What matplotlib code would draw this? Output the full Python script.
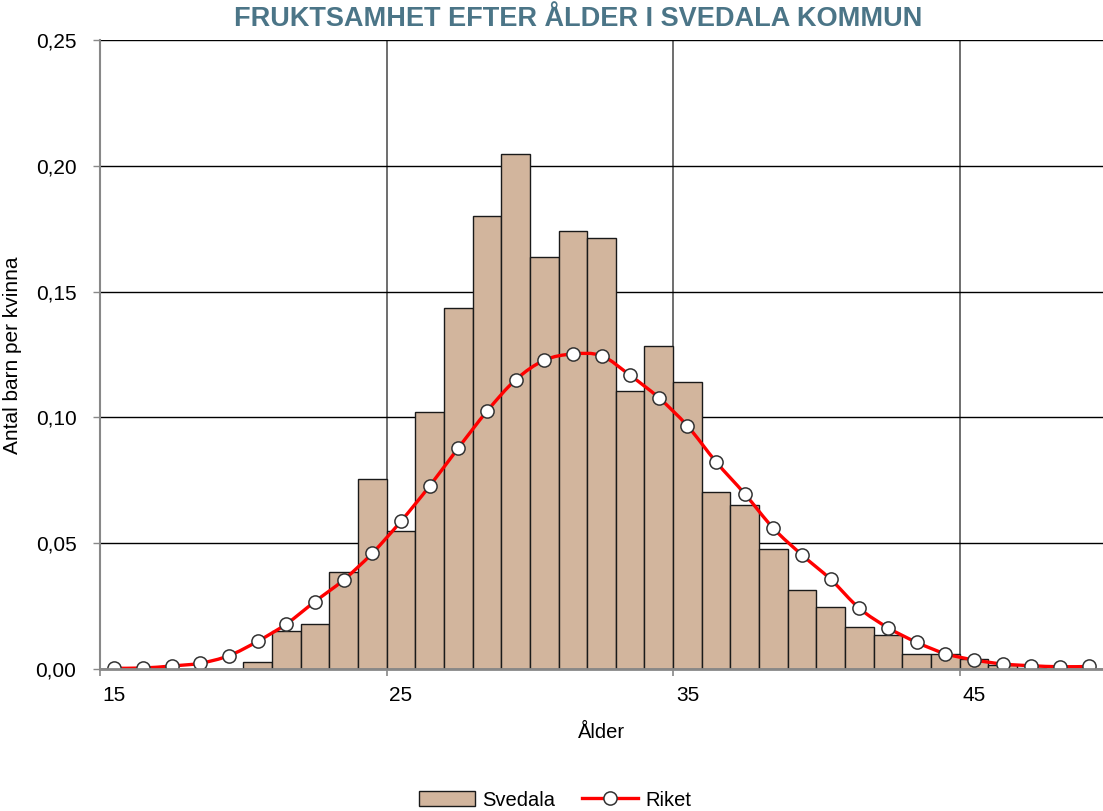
import matplotlib
matplotlib.use("Agg")
import matplotlib.pyplot as plt
from matplotlib import font_manager
from matplotlib.path import Path
from matplotlib.patches import PathPatch, Patch
from matplotlib.lines import Line2D
import numpy as np

ages = list(range(15, 50))
svedala = [0, 0, 0, 0, 0,
           0.0029, 0.0151, 0.0180, 0.0387, 0.0755, 0.0548, 0.1020, 0.1434, 0.1800, 0.2047,
           0.1639, 0.1740, 0.1712, 0.1105, 0.1285, 0.1140, 0.0705, 0.0653, 0.0477, 0.0314,
           0.0246, 0.0168, 0.0135, 0.0060, 0.0058, 0.0038, 0.0015, 0.0005, 0, 0]
riket = [0.0003, 0.0004, 0.0012, 0.0023, 0.0053, 0.0110, 0.0179, 0.0268, 0.0354, 0.0460,
         0.0587, 0.0727, 0.0878, 0.1024, 0.1149, 0.1227, 0.1252, 0.1245, 0.1167, 0.1078,
         0.0966, 0.0823, 0.0696, 0.0559, 0.0453, 0.0356, 0.0241, 0.0164, 0.0106, 0.0061,
         0.0036, 0.0020, 0.0013, 0.0009, 0.0010]
xtick_labels = ["15", "25", "35", "45"]
ytick_values = [0.00, 0.05, 0.10, 0.15, 0.20, 0.25]
ytick_labels = ["0,00", "0,05", "0,10", "0,15", "0,20", "0,25"]

title = "FRUKTSAMHET EFTER ÅLDER I SVEDALA KOMMUN"

plt.rcParams['font.family'] = ['Liberation Sans', 'DejaVu Sans']

def has_font(name):
    try:
        font_manager.findfont(name, fallback_to_default=False)
        return True
    except Exception:
        return False

if has_font('Liberation Sans Narrow'):
    title_family, title_size = 'Liberation Sans Narrow', 22
else:
    title_family, title_size = 'Liberation Sans', 19.5

W, H = 1103, 811
fig = plt.figure(figsize=(W / 100, H / 100), dpi=100)
ax = fig.add_axes([100 / W, (H - 669) / H, 1003 / W, 629 / H])

x = np.array(ages, dtype=float)
ax.bar(x, svedala, width=1.0, color='#D2B59D', edgecolor='#1a1a1a', linewidth=1.0, zorder=2)

# smooth line (Catmull-Rom as cubic Bezier)
y = np.array(riket)
verts = [(x[0], y[0])]
codes = [Path.MOVETO]
n = len(x)
for i in range(n - 1):
    p0 = np.array([x[max(i - 1, 0)], y[max(i - 1, 0)]])
    p1 = np.array([x[i], y[i]])
    p2 = np.array([x[i + 1], y[i + 1]])
    p3 = np.array([x[min(i + 2, n - 1)], y[min(i + 2, n - 1)]])
    c1 = p1 + (p2 - p0) / 6.0
    c2 = p2 - (p3 - p1) / 6.0
    verts += [tuple(c1), tuple(c2), tuple(p2)]
    codes += [Path.CURVE4] * 3
ax.add_patch(PathPatch(Path(verts, codes), facecolor='none', edgecolor='#FF0000',
                       linewidth=2.4, zorder=3, capstyle='round', joinstyle='round'))
ax.plot(x, y, linestyle='none', marker='o', markersize=9.5, markerfacecolor='white',
        markeredgecolor='#333333', markeredgewidth=1.1, zorder=4)

ax.set_xlim(14.5, 49.5)
ax.set_ylim(0, 0.25)

# gridlines
ax.set_xticks([14.5, 24.5, 34.5, 44.5])
ax.set_xticklabels([])
ax.set_xticks([15, 25, 35, 45], minor=True)
ax.set_xticklabels(xtick_labels, minor=True)
ax.tick_params(axis='x', which='major', length=5, width=1.2, color='#888888', direction='out')
ax.tick_params(axis='x', which='minor', length=0, pad=12, labelsize=15)
ax.set_yticks(ytick_values)
ax.set_yticklabels(ytick_labels)
ax.tick_params(axis='y', length=5, width=1.0, color='#888888', direction='out', pad=12, labelsize=15)

ax.xaxis.grid(True, which='major', color='#555555', linewidth=1.2)
ax.yaxis.grid(True, color='#000000', linewidth=1.0)
ax.set_axisbelow(True)

for s in ['right', 'top']:
    ax.spines[s].set_visible(False)
ax.spines['left'].set_color('#888888')
ax.spines['left'].set_linewidth(1.5)
ax.spines['bottom'].set_color('#888888')
ax.spines['bottom'].set_linewidth(2.0)
ax.spines['bottom'].set_zorder(5)

fig.text(13 / W, 1 - 355 / H, "Antal barn per kvinna", rotation=90, ha='center', va='center',
         fontsize=15)
fig.text(602 / W, 1 - 732 / H, "Ålder", ha='center', va='center', fontsize=14.5)
fig.text(578 / W, 1 - 19 / H, title, ha='center', va='center', fontsize=title_size,
         fontweight='bold', color='#4B7587', family=title_family)

handles = [Patch(facecolor='#D2B59D', edgecolor='#1a1a1a', linewidth=1.0),
           Line2D([0], [0], color='#FF0000', linewidth=2.4, marker='o', markersize=9.5,
                  markerfacecolor='white', markeredgecolor='#333333', markeredgewidth=1.1)]
fig.legend(handles, ["Svedala", "Riket"], loc='center', bbox_to_anchor=(555 / W, 1 - 800 / H),
           ncol=2, frameon=False, fontsize=14.5, handlelength=2.8, handletextpad=0.35,
           columnspacing=1.3, borderpad=0)

fig.savefig("out.png", dpi=100)
